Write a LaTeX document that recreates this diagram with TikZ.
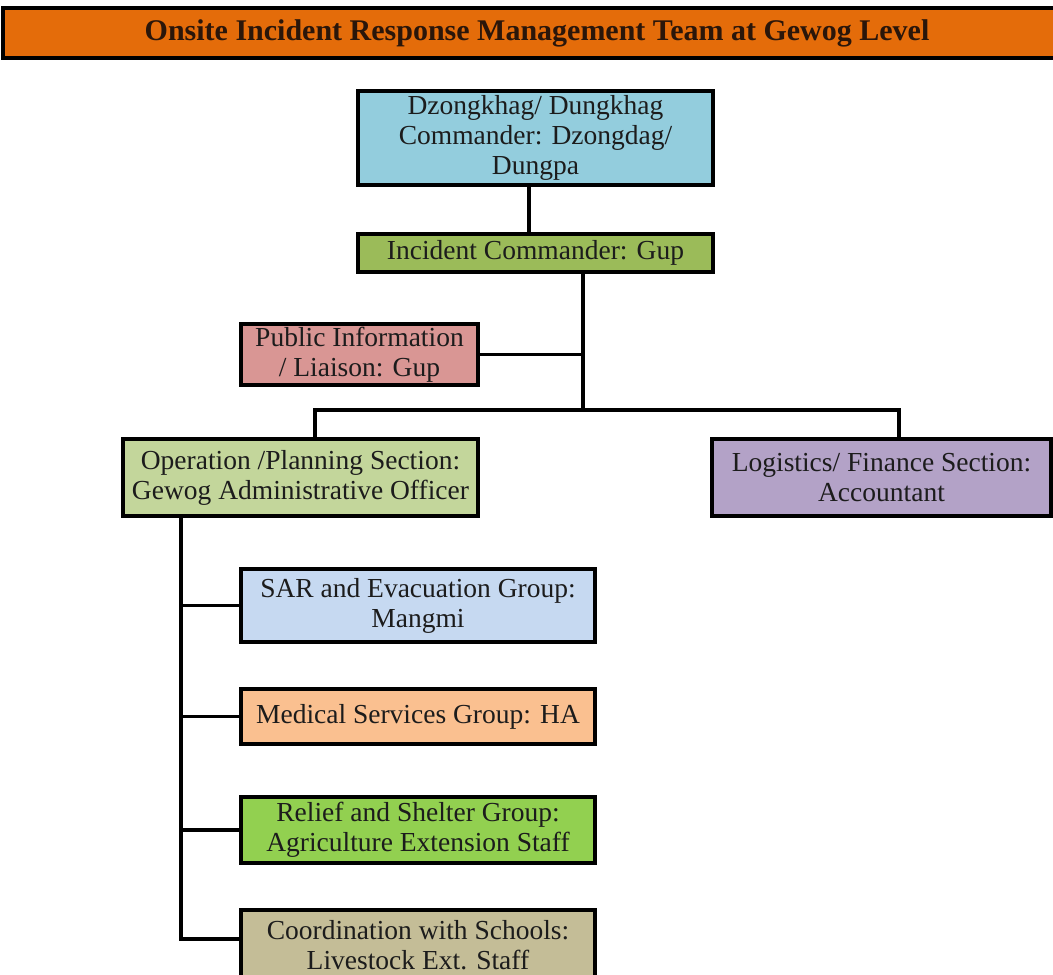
\documentclass[tikz,border=0pt]{standalone}
\usepackage{fontspec}
\setmainfont{Liberation Serif}
\usetikzlibrary{positioning}
\definecolor{titlebar}{HTML}{E46C0A}
\definecolor{titleink}{HTML}{2A160A}
\definecolor{dzong}{HTML}{93CDDD}
\definecolor{commander}{HTML}{9BBB59}
\definecolor{liaison}{HTML}{D99694}
\definecolor{operation}{HTML}{C3D69B}
\definecolor{logistics}{HTML}{B3A2C7}
\definecolor{sargroup}{HTML}{C6D9F1}
\definecolor{medical}{HTML}{FAC090}
\definecolor{relief}{HTML}{92D050}
\definecolor{schools}{HTML}{C4BD97}
\definecolor{ink}{HTML}{1C1C1C}

\tikzset{
  unitbox/.style={draw=black, line width=3.2pt, align=center, inner sep=1pt,
    font=\fontsize{27.5}{30}\selectfont, text=ink},
  link/.style={line width=3.2pt, line cap=rect},
}

\begin{document}
\begin{tikzpicture}[x=1pt,y=-1pt]
      \useasboundingbox (0,0) rectangle (1053,975);
      \node[unitbox, fill=titlebar, minimum width=1068, minimum height=50,
        font=\bfseries\fontsize{30}{32}\selectfont, text=titleink] (title) at (537,33)
        {Onsite Incident Response Management Team at Gewog Level};
      \node[unitbox, fill=dzong, minimum width=355, minimum height=94] (dz) at (535.5,138)
        {Dzongkhag/ Dungkhag\\Commander: Dzongdag/\\Dungpa};
      \node[unitbox, fill=commander, minimum width=355, minimum height=38] (ic) at (535.5,253)
        {Incident Commander: Gup};
      \node[unitbox, fill=liaison, minimum width=237, minimum height=61] (pi) at (359.5,354.5)
        {Public Information\\/ Liaison: Gup};
      \node[unitbox, fill=operation, minimum width=355, minimum height=77] (ops) at (300.5,477.5)
        {Operation /Planning Section:\\Gewog Administrative Officer};
      \node[unitbox, fill=logistics, minimum width=339, minimum height=77] (log) at (881.5,477.5)
        {Logistics/ Finance Section:\\Accountant};
      \node[unitbox, fill=sargroup, minimum width=354, minimum height=73] (sar) at (418,605.5)
        {SAR and Evacuation Group:\\Mangmi};
      \node[unitbox, fill=medical, minimum width=354, minimum height=55] (med) at (418,716.5)
        {Medical Services Group: HA};
      \node[unitbox, fill=relief, minimum width=354, minimum height=66] (rel) at (418,830)
        {Relief and Shelter Group:\\Agriculture Extension Staff};
      \node[unitbox, fill=schools, minimum width=354, minimum height=70] (co) at (418,945)
        {Coordination with Schools:\\Livestock Ext. Staff};

      \coordinate (dzdrop) at (529,0);
      \coordinate (bus) at (583,410);
      \coordinate (opstop) at (315,410);
      \coordinate (logtop) at (899,410);
      \coordinate (trunk) at (181,0);
      \coordinate (cobranch) at (0,939);

      \draw[link] (dz.south -| dzdrop) -- (ic.north -| dzdrop);
      \draw[link] (ic.south -| bus) -- (bus);
      \draw[link] (pi.east) -- (pi.east -| bus);
      \draw[link] (ops.north -| opstop) -- (opstop) -- (logtop) -- (log.north -| logtop);
      \draw[link] (ops.south -| trunk) -- (cobranch -| trunk) -- (cobranch -| co.west);
      \foreach \grp in {sar,med,rel}
        \draw[link] (\grp.west -| trunk) -- (\grp.west);
    \end{tikzpicture}
\end{document}
